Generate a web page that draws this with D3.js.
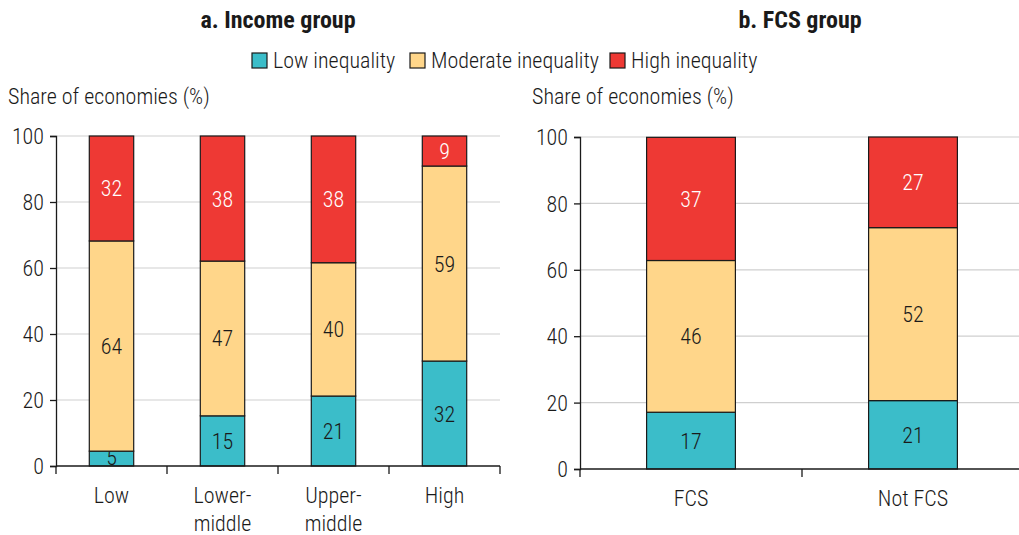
<!DOCTYPE html>
<html>
<head>
<meta charset="utf-8">
<script src="https://cdn.jsdelivr.net/npm/d3@7"></script>
<style>
  body { margin: 0; background: #fff; }
  svg text { font-family: "Roboto Condensed", "Liberation Sans Narrow", Roboto, sans-serif; font-weight: 300; fill: #1a1a1a; }
</style>
</head>
<body>
<svg id="chart" width="1019" height="535"></svg>
<script>
var series = ["Low inequality", "Moderate inequality", "High inequality"]
var colors = ["#3bbdc9", "#ffd68a", "#ee3934"]
var yTicks = [0, 20, 40, 60, 80, 100]

// panel a
var incomeGroups = ["Low", "Lower-middle", "Upper-middle", "High"]
var incomeLabels = [["Low"], ["Lower-", "middle"], ["Upper-", "middle"], ["High"]]
var incomeLow = [4.5, 15.2, 21.2, 31.8]
var incomeModerate = [63.7, 46.9, 40.4, 59.1]
var incomeHigh = [31.8, 37.9, 38.4, 9.1]

// panel b
var fcsGroups = ["FCS", "Not FCS"]
var fcsLabels = [["FCS"], ["Not FCS"]]
var fcsLow = [17.1, 20.6]
var fcsModerate = [45.7, 52.1]
var fcsHigh = [37.1, 27.3]

var svg = d3.select("#chart")

var makeRows = function(groups, low, mod, high){
  return groups.map(function(g, i){
    return {group: g, "Low inequality": low[i], "Moderate inequality": mod[i], "High inequality": high[i]}
  })
}

var drawPanel = function(opt){
  var g = svg.append("g")

  var xScale = d3.scaleBand()
      .domain(opt.groups)
      .range([opt.left, opt.right])
      .paddingInner(opt.pad)
      .paddingOuter(opt.pad/2)

  var yScale = d3.scaleLinear()
      .domain([0, 100])
      .range([opt.bottom, opt.top])

  // gridlines
  g.selectAll(".grid")
    .data(yTicks.slice(1))
    .enter()
    .append("line")
    .attr("x1", opt.left)
    .attr("x2", opt.right)
    .attr("y1", function(d){ return yScale(d) })
    .attr("y2", function(d){ return yScale(d) })
    .attr("stroke", "#cfcfcf")
    .attr("stroke-width", 1.2)

  var stack = d3.stack().keys(series)(opt.rows)

  var layers = g.selectAll(".layer")
    .data(stack)
    .enter()
    .append("g")
    .attr("fill", function(d, i){ return colors[i] })

  layers.selectAll("rect")
    .data(function(d){ return d })
    .enter()
    .append("rect")
    .attr("x", function(d){ return xScale(d.data.group) })
    .attr("y", function(d){ return yScale(d[1]) })
    .attr("width", xScale.bandwidth())
    .attr("height", function(d){ return yScale(d[0]) - yScale(d[1]) })
    .attr("stroke", "#1a1a1a")
    .attr("stroke-width", 1.2)

  layers.each(function(layer, li){
    d3.select(this).selectAll("text")
      .data(layer)
      .enter()
      .append("text")
      .attr("x", function(d){ return xScale(d.data.group) + xScale.bandwidth()/2 })
      .attr("y", function(d){
        var mid = yScale((d[0] + d[1]) / 2) + 8
        return Math.min(mid, opt.bottom - 1)
      })
      .attr("text-anchor", "middle")
      .style("font-size", "22px")
      .style("fill", li == 2 ? "#fff" : "#1a1a1a")
      .text(function(d){ return Math.round(d[1] - d[0]) })
  })

  // y axis
  var yAxis = d3.axisLeft(yScale).tickValues(yTicks).tickSize(6).tickPadding(6)
  var ya = g.append("g")
    .attr("transform", "translate(" + opt.left + ",0)")
    .call(yAxis)
  ya.select(".domain").attr("stroke", "#1a1a1a").attr("stroke-width", 1.3)
  ya.selectAll(".tick line").attr("stroke", "#1a1a1a").attr("stroke-width", 1.3)
  ya.selectAll("text").style("font-size", "22px").attr("dy", "0.35em").attr("fill", "#1a1a1a")

  // x axis line and ticks at band boundaries
  g.append("line")
    .attr("x1", opt.left).attr("x2", opt.right)
    .attr("y1", opt.bottom).attr("y2", opt.bottom)
    .attr("stroke", "#1a1a1a").attr("stroke-width", 1.5)

  var bounds = opt.groups.map(function(d){ return xScale(d) - xScale.step()*opt.pad/2 })
  bounds.push(opt.right)
  g.selectAll(".xtick")
    .data(bounds)
    .enter()
    .append("line")
    .attr("x1", function(d){ return d }).attr("x2", function(d){ return d })
    .attr("y1", opt.bottom).attr("y2", opt.bottom + 8)
    .attr("stroke", "#1a1a1a").attr("stroke-width", 1.3)

  g.selectAll(".xlab")
    .data(opt.groups)
    .enter()
    .append("text")
    .attr("text-anchor", "middle")
    .attr("x", function(d){ return xScale(d) + xScale.bandwidth()/2 })
    .attr("y", opt.bottom + 37)
    .style("font-size", "22px")
    .each(function(d, i){
      var t = d3.select(this)
      opt.labels[i].forEach(function(line, j){
        t.append("tspan")
          .attr("x", xScale(d) + xScale.bandwidth()/2)
          .attr("dy", j == 0 ? 0 : 28)
          .text(line)
      })
    })

  // titles
  svg.append("text")
    .attr("x", opt.titleX).attr("y", 28)
    .attr("text-anchor", "middle")
    .style("font-size", "24px").style("font-weight", "bold")
    .text(opt.title)

  svg.append("text")
    .attr("x", opt.yLabelX).attr("y", 104)
    .style("font-size", "22px")
    .text("Share of economies (%)")
}

drawPanel({
  groups: incomeGroups, labels: incomeLabels,
  rows: makeRows(incomeGroups, incomeLow, incomeModerate, incomeHigh),
  left: 56, right: 500, top: 136, bottom: 466, pad: 0.6,
  title: "a. Income group", titleX: 278, yLabelX: 8
})

drawPanel({
  groups: fcsGroups, labels: fcsLabels,
  rows: makeRows(fcsGroups, fcsLow, fcsModerate, fcsHigh),
  left: 580, right: 1024, top: 137, bottom: 469, pad: 0.6,
  title: "b. FCS group", titleX: 800, yLabelX: 532
})

// legend
var legendX = [252, 410, 610]
var legend = svg.append("g")
legend.selectAll("rect")
  .data(series)
  .enter()
  .append("rect")
  .attr("x", function(d, i){ return legendX[i] })
  .attr("y", 53)
  .attr("width", 15).attr("height", 15)
  .attr("fill", function(d, i){ return colors[i] })
  .attr("stroke", "#1a1a1a").attr("stroke-width", 1.2)
legend.selectAll("text")
  .data(series)
  .enter()
  .append("text")
  .attr("x", function(d, i){ return legendX[i] + 21 })
  .attr("y", 68)
  .style("font-size", "22px")
  .text(function(d){ return d })
</script>
</body>
</html>
